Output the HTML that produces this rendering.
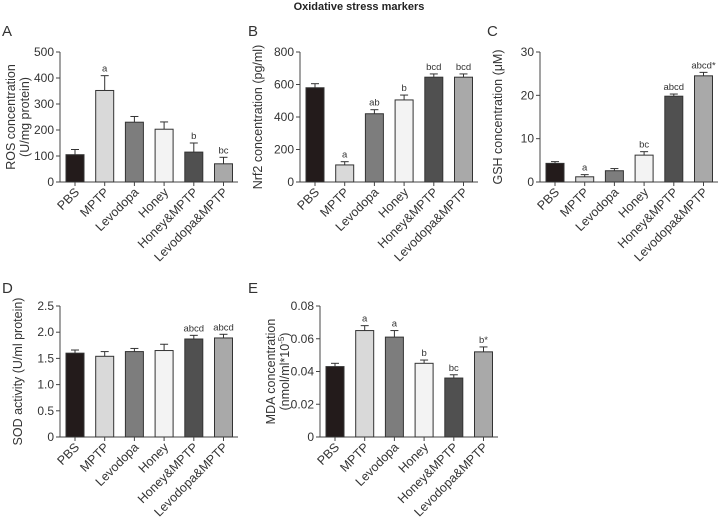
<!DOCTYPE html>
<html><head><meta charset="utf-8"><style>
body{margin:0;background:#fff;width:718px;height:518px;overflow:hidden;font-family:"Liberation Sans",sans-serif}
svg text{font-family:"Liberation Sans",sans-serif;fill:#333}
</style></head><body>
<svg id="fig" width="718" height="518">
<text x="359" y="10" text-anchor="middle" font-size="11" font-weight="bold" style="fill:#222">Oxidative stress markers</text>
</svg>
<script>
const categories=["PBS","MPTP","Levodopa","Honey","Honey&MPTP","Levodopa&MPTP"];
const colors=["#231b1b","#d9d9d9","#7d7d7d","#f3f3f3","#505050","#a9a9a9"];
const rosValues=[105,352,230,203,115,70];
const rosErrors=[20,57,22,28,35,25];
const rosLabels=["","a","","","b","bc"];
const nrfValues=[580,105,420,505,645,645];
const nrfErrors=[25,20,25,30,20,20];
const nrfLabels=["","a","ab","b","bcd","bcd"];
const gshValues=[4.3,1.2,2.6,6.2,19.8,24.5];
const gshErrors=[0.4,0.5,0.5,0.8,0.5,0.8];
const gshLabels=["","a","","bc","abcd","abcd*"];
const sodValues=[1.6,1.54,1.63,1.65,1.87,1.89];
const sodErrors=[0.06,0.09,0.06,0.12,0.07,0.07];
const sodLabels=["","","","","abcd","abcd"];
const mdaValues=[0.043,0.065,0.061,0.045,0.036,0.052];
const mdaErrors=[0.002,0.003,0.004,0.002,0.002,0.003];
const mdaLabels=["","a","a","b","bc","b*"];
const rosTicks=[0,100,200,300,400,500];
const nrfTicks=[0,200,400,600,800];
const gshTicks=[0,10,20,30];
const sodTicks=[0,0.5,1.0,1.5,2.0,2.5];
const mdaTicks=[0,0.02,0.04,0.06,0.08];

const svg=document.getElementById('fig');
const NS="http://www.w3.org/2000/svg";
function mk(tag,attrs,parent){const e=document.createElementNS(NS,tag);for(const k in attrs)e.setAttribute(k,attrs[k]);(parent||svg).appendChild(e);return e;}

function panel(id,letter,lx,ly,ax,zeroY,topY,ticks,tickFmt,values,errors,labels,titleLines){
  const g=mk('g',{});
  
  
  const max=ticks[ticks.length-1];
  const yS=v=>zeroY-(v/max)*(zeroY-topY);
  const step=29.7, w=18;
  const xS=i=>ax+15+i*step;
  const L=mk('text',{x:lx,y:ly,'font-size':15},g);L.textContent=letter;
  
  
  const ya=mk('line',{x1:ax,x2:ax,y1:topY,y2:zeroY,stroke:'#444','stroke-width':1},g);
  
  
  ticks.forEach(t=>{
    const y=yS(t);
    mk('line',{x1:ax-4,x2:ax,y1:y,y2:y,stroke:'#444'},g);
    const tx=mk('text',{x:ax-6,y:y+4,'font-size':12,'text-anchor':'end'},g);
    tx.textContent=tickFmt(t);
    
    
  });
  const xa=mk('line',{x1:ax,x2:ax+178,y1:zeroY,y2:zeroY,stroke:'#444'},g);
  
  
  const cy=(topY+zeroY)/2;
  titleLines.forEach((t,k)=>{
    const n=titleLines.length;
    const x=ax-38+(k-(n-1))*14+(n>1?7:0);
    const tt=mk('text',{x:x,y:cy,'font-size':12.5,'text-anchor':'middle',transform:`rotate(-90 ${x} ${cy})`},g);
    tt.innerHTML=t;
    
    
  });
  values.forEach((v,i)=>{
    const cx=xS(i);
    const y=yS(v), ye=yS(v+errors[i]);
    mk('line',{x1:cx,x2:cx,y1:ye,y2:y,stroke:'#333'},g);
    mk('line',{x1:cx-4,x2:cx+4,y1:ye,y2:ye,stroke:'#333'},g);
    const r=mk('rect',{x:cx-w/2,y:y,width:w,height:zeroY-y,fill:colors[i],stroke:'#333','stroke-width':1},g);
    
    
    if(labels[i]){
      const s=mk('text',{x:cx,y:ye-4,'font-size':9.5,'text-anchor':'middle'},g);
      s.textContent=labels[i];
      
      
    }
    mk('line',{x1:cx,x2:cx,y1:zeroY,y2:zeroY+4,stroke:'#444'},g);
    const ox=cx+5, oy=zeroY+11;
    const xl=mk('text',{x:ox,y:oy,'font-size':12.5,'text-anchor':'end',transform:`rotate(-45 ${ox} ${oy})`},g);
    xl.textContent=categories[i];
    
    
  });
}
const f0=t=>String(t), f1=t=>t.toFixed(1), f2=t=>t===0?'0':t.toFixed(2);
panel('a','A',2,36,60,182,52,rosTicks,f0,rosValues,rosErrors,rosLabels,['ROS concentration','(U/mg protein)']);
panel('b','B',248,36,300,182,52,nrfTicks,f0,nrfValues,nrfErrors,nrfLabels,['Nrf2 concentration (pg/ml)']);
panel('c','C',487,36,540,182,52,gshTicks,f0,gshValues,gshErrors,gshLabels,['GSH concentration (μM)']);
panel('d','D',2,293,60,437,306,sodTicks,t=>t===0?'0':f1(t),sodValues,sodErrors,sodLabels,['SOD activity (U/ml protein)']);
panel('e','E',248,293,320,437,306,mdaTicks,f2,mdaValues,mdaErrors,mdaLabels,['MDA concentration','(nmol/ml*10<tspan dy="-5" font-size="8">-5</tspan><tspan dy="5">)</tspan>']);
</script>
</body></html>
